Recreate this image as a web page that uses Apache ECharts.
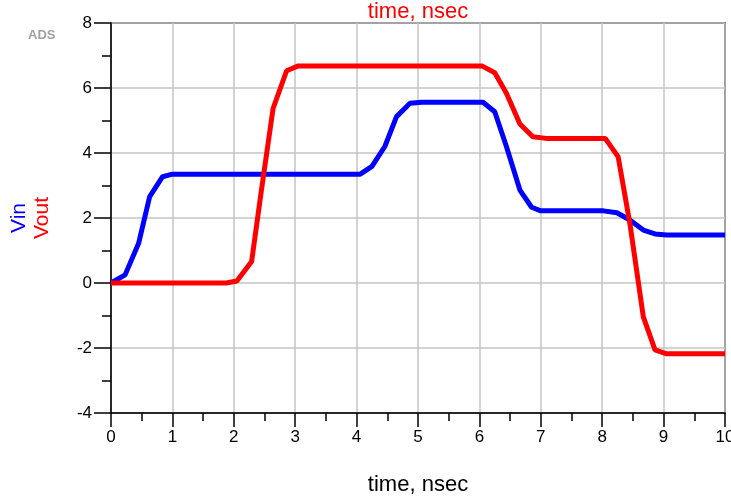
<!DOCTYPE html>
<html>
<head>
<meta charset="utf-8">
<script src="https://cdn.jsdelivr.net/npm/echarts@6/dist/echarts.min.js"></script>
<style>
  html, body { margin: 0; padding: 0; background: #fff; }
  #chart { width: 731px; height: 499px; }
</style>
</head>
<body>
<div id="chart"></div>
<script>
// transient response, time in nsec
const vinTime = [0, 0.23, 0.45, 0.63, 0.84, 1.0, 4.06, 4.25, 4.46, 4.65, 4.87, 5.06, 6.06, 6.25, 6.44, 6.66, 6.85, 7.0, 8.02, 8.24, 8.45, 8.67, 8.86, 9.05, 10];
const vinValue = [0, 0.25, 1.22, 2.66, 3.27, 3.35, 3.35, 3.59, 4.2, 5.12, 5.53, 5.56, 5.56, 5.27, 4.2, 2.86, 2.33, 2.22, 2.22, 2.16, 1.94, 1.63, 1.51, 1.48, 1.48];

const voutTime = [0, 1.88, 2.05, 2.29, 2.45, 2.64, 2.86, 3.05, 6.04, 6.25, 6.44, 6.66, 6.87, 7.09, 8.05, 8.26, 8.45, 8.67, 8.86, 9.05, 10];
const voutValue = [0, 0, 0.06, 0.66, 2.86, 5.37, 6.53, 6.68, 6.68, 6.47, 5.84, 4.89, 4.5, 4.45, 4.45, 3.88, 1.84, -1.04, -2.06, -2.18, -2.18];

const xTicks = [0, 10, 1];   // min, max, interval
const yTicks = [-4, 8, 2];

const chart = echarts.init(document.getElementById('chart'));

const font = 'Liberation Sans, Arial, sans-serif';

chart.setOption({
  animation: false,
  grid: {
    left: 111, right: 6, top: 23, bottom: 86,
    containLabel: false, outerBoundsMode: 'none',
    show: true, borderColor: '#000', borderWidth: 1.5
  },
  graphic: [
    { type: 'text', left: 28, top: 29, style: { text: 'ADS', fill: '#a0a0a0', font: 'bold 13px ' + font } },
    { type: 'text', x: 418, y: 12, style: { text: 'time, nsec', fill: '#ff0000', font: '22px ' + font, align: 'center', verticalAlign: 'middle' } },
    { type: 'text', x: 19, y: 218, rotation: Math.PI / 2, style: { text: 'Vin', fill: '#0000ff', font: '21px ' + font, align: 'center', verticalAlign: 'middle' } },
    { type: 'text', x: 42, y: 218, rotation: Math.PI / 2, style: { text: 'Vout', fill: '#ff0000', font: '21px ' + font, align: 'center', verticalAlign: 'middle' } }
  ],
  xAxis: {
    type: 'value',
    min: xTicks[0], max: xTicks[1], interval: xTicks[2],
    name: 'time, nsec',
    nameLocation: 'middle',
    nameGap: 61,
    nameTextStyle: { color: '#000', fontSize: 22, fontFamily: font },
    axisLine: { onZero: false, lineStyle: { color: '#000', width: 1.5 } },
    axisTick: { length: 14, lineStyle: { color: '#000', width: 1.5 } },
    minorTick: { show: true, splitNumber: 2, length: 8, lineStyle: { color: '#000', width: 1.5 } },
    axisLabel: { color: '#000', fontSize: 17, fontFamily: font, margin: 16, showMaxLabel: true, hideOverlap: false },
    splitLine: { show: true, lineStyle: { color: '#c4c4c4', width: 1.5 } }
  },
  yAxis: {
    type: 'value',
    min: yTicks[0], max: yTicks[1], interval: yTicks[2],
    axisLine: { show: true, lineStyle: { color: '#000', width: 1.5 } },
    axisTick: { show: true, length: 17, lineStyle: { color: '#000', width: 1.5 } },
    minorTick: { show: true, splitNumber: 2, length: 9, lineStyle: { color: '#000', width: 1.5 } },
    axisLabel: { color: '#000', fontSize: 17, fontFamily: font, margin: 19 },
    splitLine: { show: true, lineStyle: { color: '#c4c4c4', width: 1.5 } }
  },
  series: [
    {
      name: 'Vin', type: 'line', showSymbol: false, z: 3,
      lineStyle: { color: '#0000ff', width: 5 },
      data: vinTime.map((t, i) => [t, vinValue[i]])
    },
    {
      name: 'Vout', type: 'line', showSymbol: false, z: 4,
      lineStyle: { color: '#ff0000', width: 5 },
      data: voutTime.map((t, i) => [t, voutValue[i]])
    }
  ]
});
</script>
</body>
</html>
